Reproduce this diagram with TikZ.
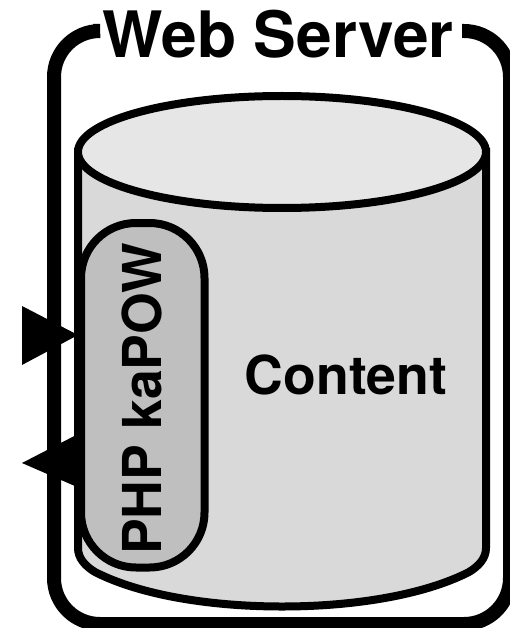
\documentclass[tikz,border=0pt]{standalone}
\usepackage{fontspec}
\setmainfont{TeX Gyre Heros}
\definecolor{topc}{HTML}{E6E6E6}
\definecolor{bodyc}{HTML}{D9D9D9}
\definecolor{pillc}{HTML}{BFBFBF}
\begin{document}
\begin{tikzpicture}[x=1pt,y=-1pt,
  line/.style={draw=black,line width=8pt},
  biglbl/.style={inner sep=0,font=\bfseries\fontsize{53.6}{56}\selectfont}]
\useasboundingbox (0,0) rectangle (510,628);
\clip (0,0) rectangle (510,628);
\draw[draw=black,line width=14pt,rounded corners=46pt] (93,31) -- (54,31) -- (54,624) -- (510,624) -- (510,31) -- (462,31);
\node[inner sep=0,font=\bfseries\fontsize{64}{68}\selectfont] (title) at (278,34) {Web Server};
\draw[line,fill=bodyc] (78,152) -- (78,548) .. controls (78,558) and (85,566) .. (95,572) .. controls (140,595) and (210,606.5) .. (282,606.5) .. controls (354,606.5) and (424,595) .. (469,572) .. controls (479,566) and (486,558) .. (486,548) -- (486,152) -- cycle;
\draw[line,fill=topc] (282,152) ellipse[x radius=204,y radius=56];
\node[biglbl] (content) at (346,375) {Content};
\draw[line,fill=pillc,rounded corners=55pt] (81,223) rectangle (204.5,567.5);
\node[biglbl,rotate=90] (php) at (142,399) {PHP kaPOW};
\fill (22,306) -- (78,335) -- (22,365) -- cycle;
\fill (22,463) -- (84,431) -- (84,490) -- cycle;
\end{tikzpicture}
\end{document}
